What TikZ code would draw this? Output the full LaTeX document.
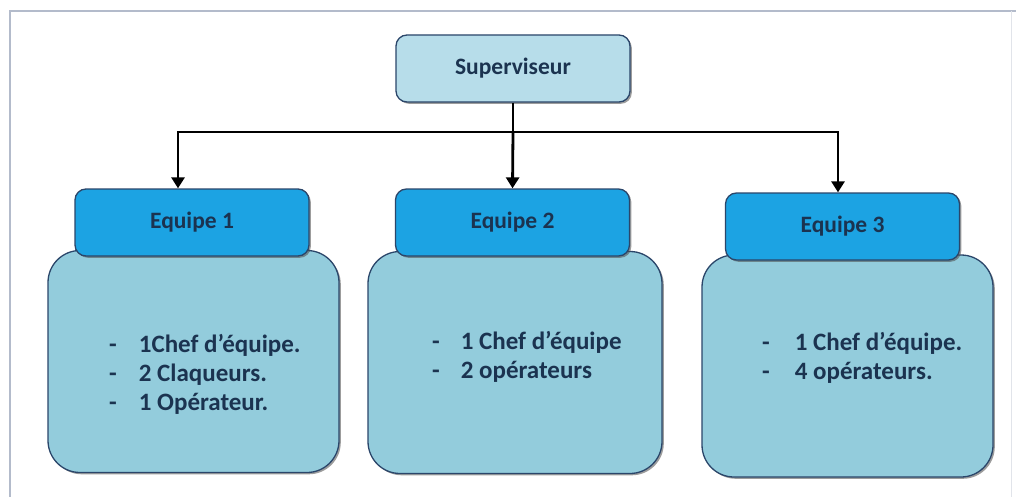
\documentclass[tikz,border=0pt]{standalone}
\usepackage{fontspec}
\setmainfont{Carlito}
\usetikzlibrary{shadows,arrows.meta}
\definecolor{frameC}{HTML}{B3BBCB}
\definecolor{supC}{HTML}{B7DDEA}
\definecolor{headC}{HTML}{1CA3E3}
\definecolor{bodyC}{HTML}{93CCDC}
\definecolor{edgeC}{HTML}{2B466A}
\definecolor{txtC}{HTML}{1B3350}
\tikzset{
  boxbase/.style={draw=edgeC, line width=1.3pt, text=txtC,
    font=\fontsize{23.5}{28}\selectfont\bfseries, inner sep=0pt,
    drop shadow={shadow xshift=1.8pt, shadow yshift=-1.8pt, opacity=.55, fill=black!70}},
  supbox/.style={boxbase, fill=supC, rounded corners=11pt, minimum width=234pt, minimum height=67pt},
  headbox/.style={boxbase, fill=headC, rounded corners=11pt, minimum width=234pt, minimum height=67pt},
  bodybox/.style={boxbase, fill=bodyC, rounded corners=32pt, minimum height=222pt},
  listtext/.style={anchor=west, text=txtC, inner sep=0pt,
    font=\fontsize{25}{29}\selectfont\bfseries},
  link/.style={line width=2.8pt, black},
  arrowlink/.style={link, -{Triangle[width=13pt,length=11pt]}}
}
\begin{document}
\begin{tikzpicture}[x=1pt,y=-1pt]
\useasboundingbox (0,0) rectangle (1016,497);
\fill[white] (0,0) rectangle (1016,497);
\draw[frameC, line width=2.5pt] (10,497) -- (10,11) -- (1016,11);
\draw[frameC!40, line width=1pt] (1011,11) -- (1011,497);

% bodies first
\node[bodybox, minimum width=291pt] (b1) at (193.5,361.5) {};
\node[bodybox, minimum width=294pt] (b2) at (515,362.5) {};
\node[bodybox, minimum width=291pt] (b3) at (847.5,366) {};

% headers
\node[headbox] (h1) at (192,222.5) {Equipe 1};
\node[headbox] (h2) at (512.5,222.5) {Equipe 2};
\node[headbox] (h3) at (842.5,226.5) {Equipe 3};

% supervisor
\node[supbox] (sup) at (513,68.5) {Superviseur};

% list texts
\node[listtext] (t1) at (109,376) {\begin{tabular}{@{}l@{\hspace{22pt}}l@{}}-&1Chef d’équipe.\\-&2 Claqueurs.\\-&1 Opérateur.\end{tabular}};
\node[listtext] (t2) at (432,358) {\begin{tabular}{@{}l@{\hspace{21pt}}l@{}}-&1 Chef d’équipe\\-&2 opérateurs\end{tabular}};
\node[listtext] (t3) at (762,359) {\begin{tabular}{@{}l@{\hspace{25pt}}l@{}}-&1 Chef d’équipe.\\-&4 opérateurs.\end{tabular}};

% connectors
\coordinate (j) at (513,132);
\draw[link] (sup.south) -- (j);
\draw[link, line cap=rect] ([xshift=-14pt]h1.north |- j) -- ([xshift=-4.5pt]h3.north |- j);
\draw[arrowlink] ([xshift=-14pt]h1.north |- j) -- ([xshift=-14pt]h1.north);
\draw[arrowlink] (j) -- (h2.north);
\draw[arrowlink] ([xshift=-4.5pt]h3.north |- j) -- ([xshift=-4.5pt]h3.north);
\end{tikzpicture}
\end{document}
